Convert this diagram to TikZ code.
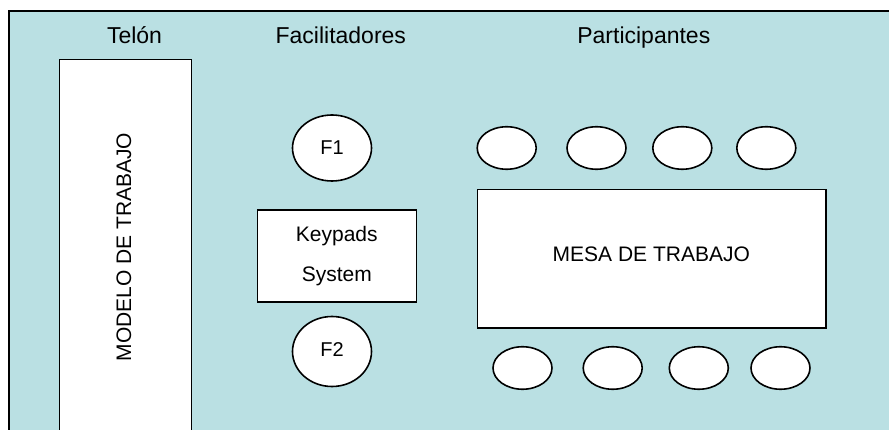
\documentclass[tikz,border=0pt]{standalone}
\usepackage{fontspec}
\setmainfont{Liberation Sans}
\usetikzlibrary{shapes.geometric}
\definecolor{bgblue}{RGB}{186,224,227}
\tikzset{
  lbl/.style={font=\fontsize{21}{25}\selectfont, inner sep=0pt},
  title/.style={font=\fontsize{23}{27}\selectfont, inner sep=0pt, anchor=base},
  box/.style={draw=black, line width=1.5pt, fill=white, inner sep=0pt},
  seat/.style={draw=black, line width=1.6pt, fill=white, ellipse, inner sep=0pt, minimum width=59pt, minimum height=42.5pt},
  fac/.style={draw=black, line width=1.6pt, fill=white, ellipse, inner sep=0pt, minimum width=79pt, minimum height=66pt, font=\fontsize{20}{24}\selectfont}
}
\begin{document}
\begin{tikzpicture}[x=1pt,y=-1pt]
\useasboundingbox (0,0) rectangle (889,430);
\clip (0,0) rectangle (889,430);
% frame
\draw[line width=2pt, fill=bgblue] (8.5,11) rectangle (900,440);
% titles
\node[title] (tTelon) at (134.5,43.3) {Telón};
\node[title] (tFac) at (340.8,43.3) {Facilitadores};
\node[title] (tPar) at (643.8,43.3) {Participantes};
% modelo de trabajo
\draw[box] (59.5,59.5) rectangle (191.5,445);
\node[lbl, rotate=90] (modelo) at (124,247) {MODELO DE TRABAJO};
% facilitadores
\node[fac] (F1) at (332,148) {F1};
\node[fac, minimum height=70pt] (F2) at (332,351.5) {\raisebox{3pt}{F2}};
\node[box, minimum width=159pt, minimum height=92pt] (keypads) at (337.2,256) {};
\node[lbl, anchor=base] (kp1) at (336.8,241.7) {Keypads};
\node[lbl, anchor=base] (kp2) at (336.8,281.7) {System};
% mesa
\node[box, minimum width=348.7pt, minimum height=138.7pt] (mesa) at (651.7,258.7) {};
\node[lbl] (mesatxt) at (651.3,254) {MESA DE TRABAJO};
% seats top
\node[seat] (s1) at (506.7,148) {};
\node[seat] (s2) at (596.5,148) {};
\node[seat] (s3) at (682.3,148) {};
\node[seat] (s4) at (766.3,148) {};
% seats bottom
\node[seat] (s5) at (522.5,368) {};
\node[seat] (s6) at (612.7,368) {};
\node[seat] (s7) at (698.8,368) {};
\node[seat] (s8) at (780.5,368) {};
\end{tikzpicture}
\end{document}
